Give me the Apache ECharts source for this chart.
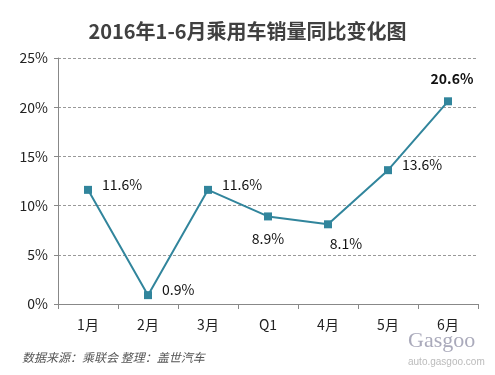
<!DOCTYPE html>
<html><head><meta charset="utf-8">
<script src="https://cdn.jsdelivr.net/npm/echarts@6/dist/echarts.min.js"></script>
<style>html,body{margin:0;padding:0;background:#fff}#c{width:495px;height:375px}</style>
</head><body><div id="c"></div>
<script>
const categories = ['1月','2月','3月','Q1','4月','5月','6月'];
const values = [11.6, 0.9, 11.6, 8.9, 8.1, 13.6, 20.6];
const labelPos = ['right','right','right','bottom','bottom','right','top'];
const yTicks = [0,5,10,15,20,25];

const chart = echarts.init(document.getElementById('c'));
const font = '"Microsoft YaHei","Noto Sans CJK SC",sans-serif';
chart.setOption({
  backgroundColor:'#fff',
  animation:false,
  title:{text:'2016年1-6月乘用车销量同比变化图',left:'center',top:16,
    textStyle:{fontSize:20,fontWeight:'bold',color:'#404040',fontFamily:font}},
  grid:{left:58,right:17,top:58,bottom:71},
  xAxis:{type:'category',data:categories,boundaryGap:true,
    axisLine:{lineStyle:{color:'#888'}},
    axisTick:{show:true,length:5,lineStyle:{color:'#888'}},
    axisLabel:{color:'#222',fontSize:14,margin:14,fontFamily:font}},
  yAxis:{type:'value',min:yTicks[0],max:yTicks[yTicks.length-1],interval:5,
    axisLine:{show:true,lineStyle:{color:'#888'}},
    axisTick:{show:true,length:4,lineStyle:{color:'#888'}},
    axisLabel:{color:'#222',fontSize:14,margin:10,formatter:v=>v+'%',fontFamily:font},
    splitLine:{lineStyle:{color:'#999',type:[3,2],width:1}}},
  series:[{type:'line',
    data:values.map((v,i)=>({value:v,label:{position:labelPos[i],
      fontWeight:i===6?'bold':'normal',fontSize:14,
      offset:labelPos[i]==='bottom'?(i===4?[18,0]:[0,3]):(labelPos[i]==='top'?[4,-4]:[2,-5])}})),
    symbol:'rect',symbolSize:8,
    lineStyle:{color:'#31859C',width:2},
    itemStyle:{color:'#31859C'},
    label:{show:true,color:'#111',fontFamily:font,formatter:p=>p.value.toFixed(1)+'%',distance:8}}],
  graphic:[
    {type:'text',left:22,top:351,style:{text:'数据来源：乘联会 整理：盖世汽车',fill:'#555',font:'italic 12px '+font}},
    {type:'text',left:408,top:330,style:{text:'Gasgoo',fill:'#aab',font:'22px "Liberation Serif",serif'}},
    {type:'text',left:408,top:357,style:{text:'auto.gasgoo.com',fill:'#bbb',font:'10px sans-serif'}}
  ]
});
</script></body></html>
